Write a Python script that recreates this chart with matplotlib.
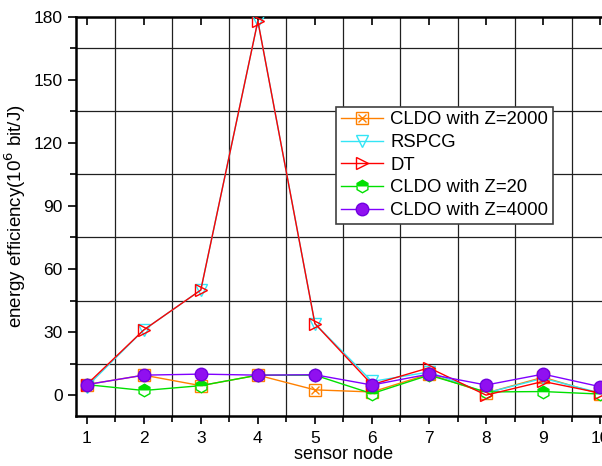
import numpy as np
import matplotlib.pyplot as plt
from matplotlib.ticker import MultipleLocator
from matplotlib.legend_handler import HandlerTuple

plt.rcParams['font.family'] = ['Liberation Sans', 'DejaVu Sans']

# data
nodes = [1, 2, 3, 4, 5, 6, 7, 8, 9, 10]
cldo_2000 = [5, 9.5, 4.5, 9.5, 2.5, 1.5, 10, 1, 8.5, 0.5]
rspcg = [4, 31, 50, 178, 34, 6.5, 11, 1, 8, 1]
dt = [5, 31, 50, 178, 34, 5, 13, 0, 6.5, 1]
cldo_20 = [5, 2.2, 4.5, 9.5, 9.5, 0.7, 9.5, 1.5, 1.7, 0.5]
cldo_4000 = [5, 9.5, 10, 9.5, 9.7, 4.8, 10, 4.8, 10, 4]

fig = plt.figure(figsize=(6.02, 4.66), dpi=100)
ax = fig.add_axes([0.126, 0.107, 0.889, 0.857])

ms = 9
o1, = ax.plot(nodes, cldo_2000, color='#FF8000', lw=1, marker='s', ms=ms - 1,
              mfc='none', mew=1, zorder=3)
o2, = ax.plot(nodes, cldo_2000, color='#FF8000', lw=0, marker='x', ms=ms - 3,
              mew=1, zorder=3)
c1, = ax.plot(nodes, rspcg, color='#33E5F5', lw=1, marker='v', ms=ms,
              mfc='none', mew=1, zorder=3)
g1, = ax.plot(nodes, cldo_20, color='#00E000', lw=1, marker='h', ms=ms,
              fillstyle='top', markerfacecoloralt='white', mew=1, zorder=3)
r1, = ax.plot(nodes, dt, color='#FF0000', lw=1, marker='>', ms=ms,
              mfc='none', mew=1, zorder=4)
p1, = ax.plot(nodes, cldo_4000, color='#8000FF', lw=1, marker='o', ms=ms,
              mfc='#9010F0', mec='#7000E0', zorder=5)

ax.set_xlim(0.81, 10.19)
ax.set_ylim(-10, 180)
ax.xaxis.set_major_locator(MultipleLocator(1))
ax.xaxis.set_minor_locator(MultipleLocator(0.5))
ax.yaxis.set_major_locator(MultipleLocator(30))
ax.yaxis.set_minor_locator(MultipleLocator(15))
ax.grid(which='minor', color='#202020', lw=0.9)
ax.grid(which='major', visible=False)

for s in ax.spines.values():
    s.set_linewidth(1.8)

ax.tick_params(which='major', direction='out', length=6, width=1.2,
               labelsize=12.5, top=False, right=False)
ax.tick_params(which='minor', direction='out', length=4, width=1.2)
ax.tick_params(axis='x', which='minor', top=False)
ax.tick_params(axis='x', which='major', pad=5)

# inward ticks on top and right
ax2 = ax.secondary_xaxis('top')
ax2.xaxis.set_major_locator(MultipleLocator(1))
ax2.tick_params(direction='in', length=6, width=1.2, labeltop=False)
ax3 = ax.secondary_yaxis('right')
ax3.yaxis.set_major_locator(MultipleLocator(30))
ax3.tick_params(direction='in', length=6, width=1.2, labelright=False)

ax.set_xlabel('sensor node', fontsize=13, labelpad=0)
ax.set_ylabel('energy efficiency(10$^6$ bit/J)', fontsize=13.5, labelpad=4)

leg = ax.legend([(o1, o2), c1, r1, g1, p1],
                ['CLDO with Z=2000', 'RSPCG', 'DT', 'CLDO with Z=20', 'CLDO with Z=4000'],
                handler_map={tuple: HandlerTuple(ndivide=1)},
                loc='upper left', bbox_to_anchor=(0.486, 0.775), fontsize=13.3,
                fancybox=False, framealpha=1, edgecolor='#404040',
                handlelength=2.3, borderpad=0.25, labelspacing=0.31,
                handletextpad=0.4, borderaxespad=0)
leg.get_frame().set_linewidth(1.2)

fig.savefig('out.png', dpi=100)
